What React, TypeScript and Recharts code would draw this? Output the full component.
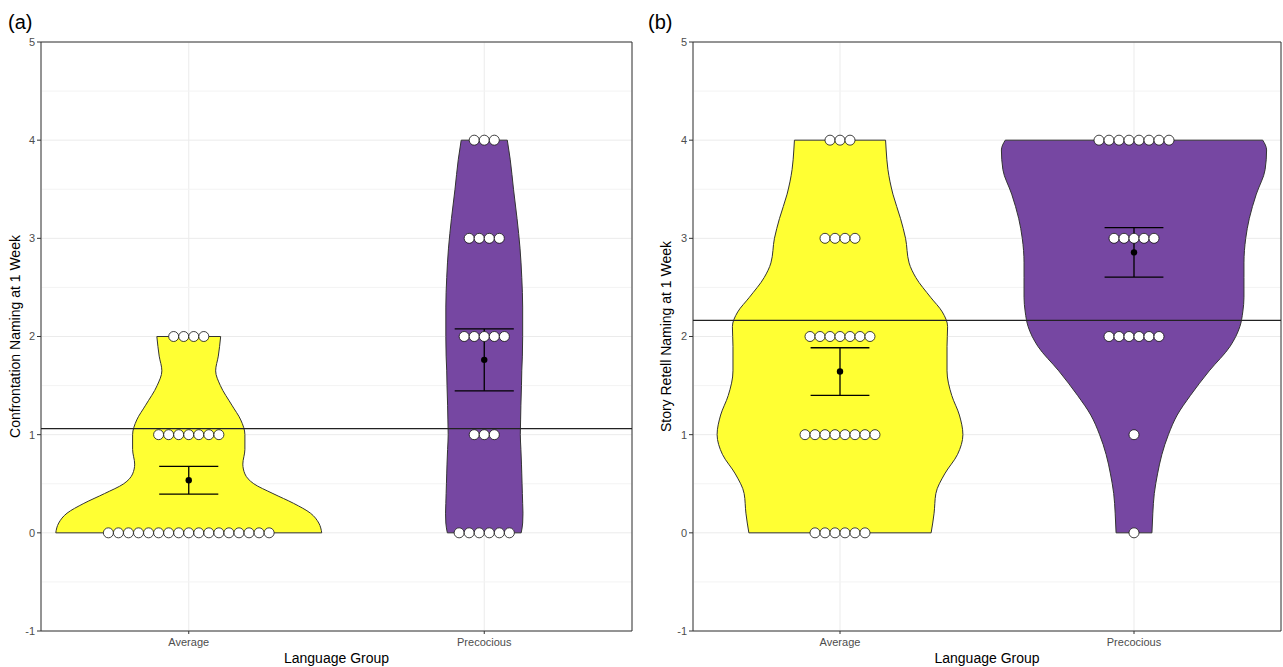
import React from 'react';
import {
  ComposedChart,
  Area,
  Line,
  Scatter,
  XAxis,
  YAxis,
  CartesianGrid,
  ReferenceLine,
  ReferenceArea,
} from 'recharts';

// ---------- data ----------
const groups = ['Average', 'Precocious'];
const scores = [0, 1, 2, 3, 4];
const yTicks = [-1, 0, 1, 2, 3, 4, 5];
const minorTicks = [-0.5, 0.5, 1.5, 2.5, 3.5, 4.5];

// number of children at each score (0..4)
const countsA_Average = [17, 7, 4, 0, 0];
const countsA_Precocious = [6, 3, 5, 4, 3];
const countsB_Average = [6, 8, 7, 4, 3];
const countsB_Precocious = [1, 1, 6, 5, 8];

// violin density profiles: score levels and half widths (group units)
const levelsA = [0, 0.1, 0.2, 0.3, 0.4, 0.5, 0.6, 0.7, 0.85, 1.0, 1.15, 1.3, 1.5, 1.65, 1.8, 2.0, 2.3, 2.6, 2.9, 3.2, 3.5, 3.8, 4.0];
const widthA_Average = [0.45, 0.44, 0.412, 0.355, 0.285, 0.22, 0.19, 0.183, 0.19, 0.19, 0.176, 0.146, 0.107, 0.091, 0.1, 0.108, null, null, null, null, null, null, null];
const widthA_Precocious = [0.125, 0.13, 0.131, 0.13, 0.129, 0.128, 0.127, 0.126, 0.124, 0.122, 0.123, 0.124, 0.126, 0.127, 0.129, 0.13, 0.13, 0.127, 0.121, 0.111, 0.099, 0.088, 0.078];

const levelsB = [0, 0.2, 0.4, 0.6, 0.8, 1.0, 1.2, 1.4, 1.65, 1.9, 2.1, 2.25, 2.4, 2.6, 2.75, 3.0, 3.2, 3.45, 3.7, 3.9, 4.0];
const widthB_Average = [0.31, 0.32, 0.326, 0.356, 0.4, 0.418, 0.406, 0.38, 0.364, 0.364, 0.366, 0.348, 0.308, 0.258, 0.235, 0.223, 0.206, 0.18, 0.163, 0.157, 0.155];
const widthB_Precocious = [0.061, 0.064, 0.069, 0.08, 0.095, 0.117, 0.147, 0.192, 0.256, 0.327, 0.36, 0.37, 0.374, 0.374, 0.374, 0.38, 0.392, 0.416, 0.446, 0.451, 0.438];

const yellow = '#FFFF33';
const purple = '#7647A2';
const dotStep = 0.034;

// ---------- helpers ----------
type Num = number | null;

function expand(counts: number[]) {
  const vals: number[] = [];
  counts.forEach((n, s) => {
    for (let i = 0; i < n; i++) vals.push(scores[s]);
  });
  return vals;
}

function stats(counts: number[]) {
  const v = expand(counts);
  const n = v.length;
  const mean = v.reduce((a, b) => a + b, 0) / n;
  const variance = v.reduce((a, b) => a + (b - mean) * (b - mean), 0) / (n - 1);
  const se = Math.sqrt(variance) / Math.sqrt(n);
  return { mean, lo: mean - se, hi: mean + se };
}

function overallMean(c1: number[], c2: number[]) {
  const v = expand(c1).concat(expand(c2));
  return v.reduce((a, b) => a + b, 0) / v.length;
}

function violinRows(levels: number[], wAvg: Num[], wPre: Num[]) {
  return levels.map((y, i) => {
    const a = wAvg[i];
    const p = wPre[i];
    return {
      y,
      avg: a == null ? null : [1 - a, 1 + a],
      pre: p == null ? null : [2 - p, 2 + p],
      avgL: a == null ? null : 1 - a,
      avgR: a == null ? null : 1 + a,
      preL: p == null ? null : 2 - p,
      preR: p == null ? null : 2 + p,
    };
  });
}

function dotRows(counts: number[], g: number) {
  const rows: { x: number; y: number }[] = [];
  counts.forEach((n, s) => {
    for (let i = 0; i < n; i++) {
      rows.push({ x: g + (i - (n - 1) / 2) * dotStep, y: scores[s] });
    }
  });
  return rows;
}

function edges(levels: number[], w: Num[], g: number) {
  let last = 0;
  w.forEach((v, i) => {
    if (v != null) last = i;
  });
  return [
    { y: levels[0], w: w[0] as number, g },
    { y: levels[last], w: w[last] as number, g },
  ];
}

const WhiteDot = (p: any) => (
  <circle cx={p.cx} cy={p.cy} r={5} fill="#ffffff" stroke="#111" strokeWidth={0.8} />
);
const MeanDot = (p: any) => <circle cx={p.cx} cy={p.cy} r={3.2} fill="#000" />;

interface PanelProps {
  left: number;
  width: number;
  yAxisWidth: number;
  rightMargin: number;
  labelOffset: number;
  yLabel: string;
  levels: number[];
  wAvg: Num[];
  wPre: Num[];
  cAvg: number[];
  cPre: number[];
}

function Panel(props: PanelProps) {
  const { left, width, yAxisWidth, rightMargin, labelOffset, yLabel, levels, wAvg, wPre, cAvg, cPre } = props;
  const rows = violinRows(levels, wAvg, wPre);
  const sAvg = stats(cAvg);
  const sPre = stats(cPre);
  const hline = overallMean(cAvg, cPre);
  const means = [
    { x: 1, y: sAvg.mean },
    { x: 2, y: sPre.mean },
  ];
  const bars = [
    { g: 1, s: sAvg },
    { g: 2, s: sPre },
  ];
  const edgeList = [...edges(levels, wAvg, 1), ...edges(levels, wPre, 2)];
  const capHalf = 0.1;
  const tickStyle = { fontSize: 11, fill: '#4d4d4d' };
  const outline = { stroke: '#333', strokeWidth: 1, dot: false, activeDot: false, isAnimationActive: false, type: 'monotone' as const };

  return (
    <div style={{ position: 'absolute', left, top: 0 }}>
      <ComposedChart
        width={width}
        height={667}
        layout="vertical"
        data={rows}
        margin={{ top: 42, right: rightMargin, bottom: 0, left: 0 }}
      >
        <CartesianGrid stroke="#ebebeb" strokeWidth={1} />
        <CartesianGrid stroke="#f3f3f3" strokeWidth={1} vertical={false} horizontalValues={minorTicks} />
        <XAxis
          type="number"
          dataKey="x"
          domain={[0.5, 2.5]}
          allowDataOverflow
          ticks={[1, 2]}
          interval={0}
          tickFormatter={(v: number) => groups[v - 1]}
          axisLine={false}
          tickLine={{ stroke: '#333' }}
          tickSize={3}
          tickMargin={4}
          tick={tickStyle}
          height={36}
          label={{ value: 'Language Group', position: 'insideBottom', offset: 4, fill: '#000', fontSize: 14 }}
        />
        <YAxis
          type="number"
          dataKey="y"
          domain={[-1, 5]}
          reversed
          allowDataOverflow
          ticks={yTicks}
          interval={0}
          axisLine={false}
          tickLine={{ stroke: '#333' }}
          tickSize={4}
          tickMargin={2}
          tick={tickStyle}
          width={yAxisWidth}
          label={{
            value: yLabel,
            angle: -90,
            position: 'insideLeft',
            offset: labelOffset,
            fill: '#000',
            fontSize: 14,
            style: { textAnchor: 'middle' },
          }}
        />
        <Area
          dataKey="avg"
          type="monotone"
          fill={yellow}
          fillOpacity={1}
          stroke="none"
          isAnimationActive={false}
          dot={false}
          activeDot={false}
        />
        <Area
          dataKey="pre"
          type="monotone"
          fill={purple}
          fillOpacity={1}
          stroke="none"
          isAnimationActive={false}
          dot={false}
          activeDot={false}
        />
        <Line dataKey="avgL" {...outline} />
        <Line dataKey="avgR" {...outline} />
        <Line dataKey="preL" {...outline} />
        <Line dataKey="preR" {...outline} />
        {edgeList.map((e, i) => (
          <ReferenceLine
            key={'edge' + i}
            segment={[
              { x: e.g - e.w, y: e.y },
              { x: e.g + e.w, y: e.y },
            ]}
            stroke="#333"
            strokeWidth={1}
          />
        ))}
        <Scatter data={dotRows(cAvg, 1)} shape={WhiteDot} isAnimationActive={false} />
        <Scatter data={dotRows(cPre, 2)} shape={WhiteDot} isAnimationActive={false} />
        {bars.map((b) => (
          <ReferenceLine
            key={'v' + b.g}
            segment={[
              { x: b.g, y: b.s.lo },
              { x: b.g, y: b.s.hi },
            ]}
            stroke="#000"
            strokeWidth={1.3}
          />
        ))}
        {bars.map((b) => (
          <ReferenceLine
            key={'t' + b.g}
            segment={[
              { x: b.g - capHalf, y: b.s.hi },
              { x: b.g + capHalf, y: b.s.hi },
            ]}
            stroke="#000"
            strokeWidth={1.3}
          />
        ))}
        {bars.map((b) => (
          <ReferenceLine
            key={'b' + b.g}
            segment={[
              { x: b.g - capHalf, y: b.s.lo },
              { x: b.g + capHalf, y: b.s.lo },
            ]}
            stroke="#000"
            strokeWidth={1.3}
          />
        ))}
        <Scatter data={means} shape={MeanDot} isAnimationActive={false} />
        <ReferenceLine y={hline} stroke="#222" strokeWidth={1.2} />
        <ReferenceArea x1={0.5} x2={2.5} y1={-1} y2={5} fill="none" stroke="#333" strokeWidth={1} />
      </ComposedChart>
    </div>
  );
}

export default function App() {
  return (
    <div
      style={{
        position: 'absolute',
        left: 0,
        top: 0,
        width: 1283,
        height: 667,
        background: '#fff',
        fontFamily: '"Liberation Sans", Arial, sans-serif',
      }}
    >
      <div style={{ position: 'absolute', left: 8, top: 12, fontSize: 20, lineHeight: '20px', color: '#000' }}>(a)</div>
      <div style={{ position: 'absolute', left: 648, top: 12, fontSize: 20, lineHeight: '20px', color: '#000' }}>(b)</div>
      <Panel
        left={0}
        width={640}
        yAxisWidth={41}
        rightMargin={8}
        labelOffset={15}
        yLabel="Confrontation Naming at 1 Week"
        levels={levelsA}
        wAvg={widthA_Average}
        wPre={widthA_Precocious}
        cAvg={countsA_Average}
        cPre={countsA_Precocious}
      />
      <Panel
        left={641}
        width={642}
        yAxisWidth={52}
        rightMargin={2}
        labelOffset={25}
        yLabel="Story Retell Naming at 1 Week"
        levels={levelsB}
        wAvg={widthB_Average}
        wPre={widthB_Precocious}
        cAvg={countsB_Average}
        cPre={countsB_Precocious}
      />
    </div>
  );
}
